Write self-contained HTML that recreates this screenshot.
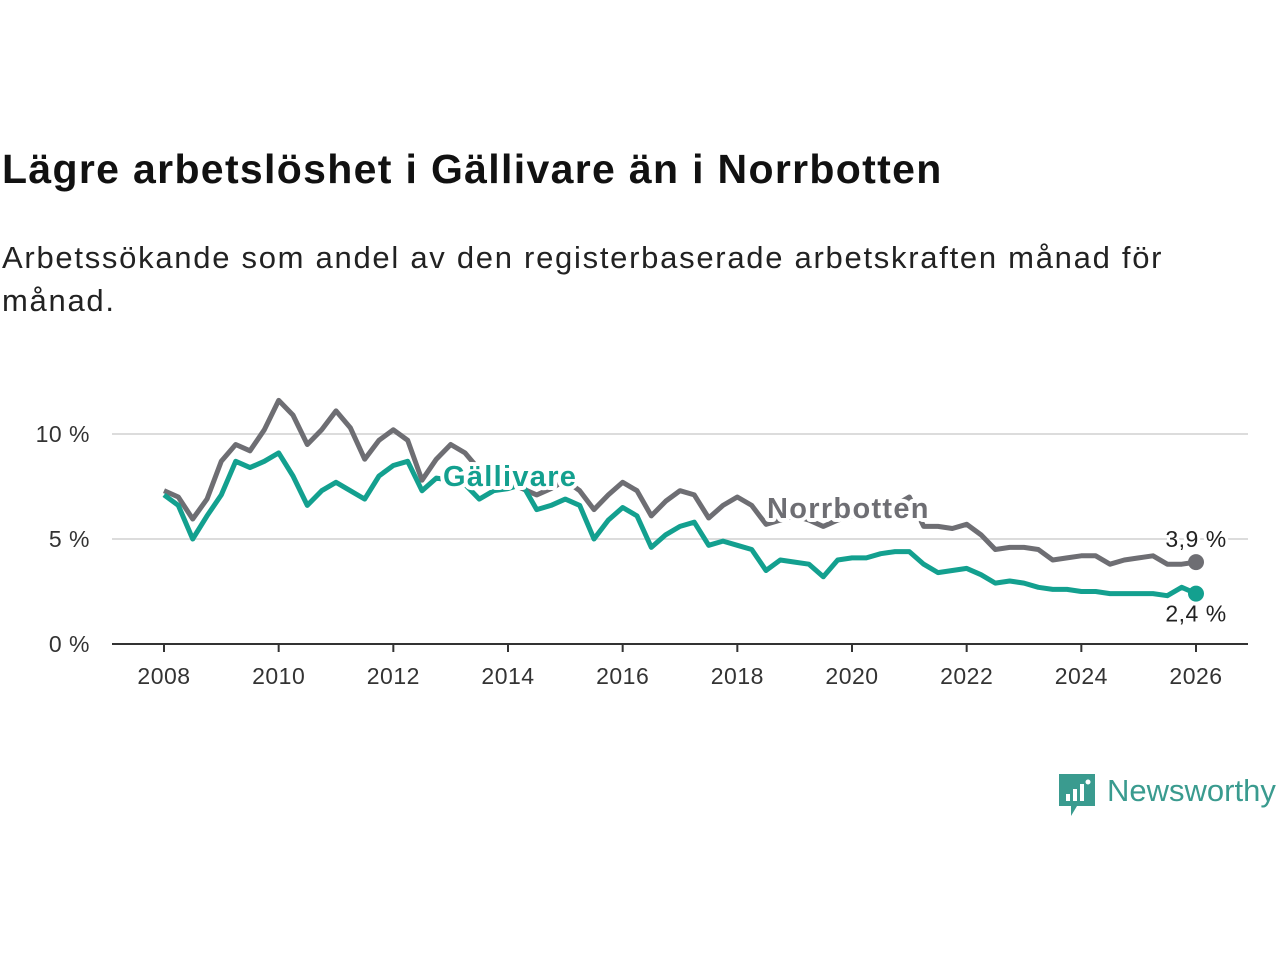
<!DOCTYPE html>
<html><head><meta charset="utf-8"><style>
body{margin:0;width:1280px;height:960px;background:#fff;font-family:"Liberation Sans",sans-serif;overflow:hidden;position:relative}
#title{position:absolute;left:2px;top:146px;font-size:41px;font-weight:bold;color:#111;margin:0;letter-spacing:1.33px}
#sub{position:absolute;left:2px;top:236px;font-size:31px;color:#222;line-height:43px;width:1250px;letter-spacing:1.72px}
svg{position:absolute;left:0;top:0}
</style></head><body>
<h1 id="title">Lägre arbetslöshet i Gällivare än i Norrbotten</h1>
<div id="sub">Arbetssökande som andel av den registerbaserade arbetskraften månad för<br>månad.</div>
<svg id="chart" width="1280" height="960"></svg>
<div style="position:absolute;left:1059px;top:774px;">
<svg width="40" height="44" style="position:absolute;left:0;top:0"><path d="M0 0H36V32H18L12 42V32H0Z" fill="#3a9b8f"/><rect x="7" y="20" width="4" height="7" fill="#fff"/><rect x="14" y="15" width="4" height="12" fill="#fff"/><rect x="21" y="10" width="4" height="17" fill="#fff"/><circle cx="29" cy="8" r="2.5" fill="#fff"/></svg>
<span style="position:absolute;left:48px;top:-1px;font-size:31px;color:#3a9b8f;white-space:nowrap">Newsworthy</span></div>
<script>
const years=[2008,2010,2012,2014,2016,2018,2020,2022,2024,2026];
const yTicks=[0,5,10];
const yTickLabels=["0 %","5 %","10 %"];
const startYear=2008, stepYears=0.25;
const norrbotten=[7.3,7.0,5.95,6.9,8.7,9.5,9.2,10.2,11.6,10.9,9.5,10.2,11.1,10.3,8.8,9.7,10.2,9.7,7.8,8.8,9.5,9.1,8.3,7.9,7.7,7.4,7.1,7.4,7.8,7.3,6.4,7.1,7.7,7.3,6.1,6.8,7.3,7.1,6.0,6.6,7.0,6.6,5.7,5.9,6.1,5.9,5.6,5.9,6.1,6.2,6.5,6.6,7.0,5.6,5.6,5.5,5.7,5.2,4.5,4.6,4.6,4.5,4.0,4.1,4.2,4.2,3.8,4.0,4.1,4.2,3.8,3.8,3.9];
const gallivare=[7.1,6.6,5.0,6.1,7.1,8.7,8.4,8.7,9.1,8.0,6.6,7.3,7.7,7.3,6.9,8.0,8.5,8.7,7.3,7.9,7.8,7.6,6.9,7.3,7.4,7.6,6.4,6.6,6.9,6.6,5.0,5.9,6.5,6.1,4.6,5.2,5.6,5.8,4.7,4.9,4.7,4.5,3.5,4.0,3.9,3.8,3.2,4.0,4.1,4.1,4.3,4.4,4.4,3.8,3.4,3.5,3.6,3.3,2.9,3.0,2.9,2.7,2.6,2.6,2.5,2.5,2.4,2.4,2.4,2.4,2.3,2.7,2.4];
const lastLabels=["3,9 %","2,4 %"];
const X=y=>164+(y-2008)*(1196-164)/18;
const Y=v=>644-v*21;
const NS="http://www.w3.org/2000/svg";
const svg=document.getElementById('chart');
function mk(t,a,txt){const e=document.createElementNS(NS,t);for(const k in a)e.setAttribute(k,a[k]);if(txt!=null)e.textContent=txt;svg.appendChild(e);return e;}
yTicks.forEach((t,i)=>{
 if(t>0){const g=mk('line',{x1:112,x2:1248,y1:Y(t),y2:Y(t),stroke:'#dcdcdc','stroke-width':2});
 
 }
 const l=mk('text',{x:90,y:Y(t)+8,'text-anchor':'end','font-size':23,fill:'#333','font-family':'Liberation Sans, sans-serif','letter-spacing':0.5},yTickLabels[i]);
 
 
});
const ax=mk('line',{x1:112,x2:1248,y1:644,y2:644,stroke:'#333','stroke-width':2});


years.forEach(y=>{
 const t=mk('line',{x1:X(y),x2:X(y),y1:644,y2:652,stroke:'#333','stroke-width':2});
 
 
 const l=mk('text',{x:X(y),y:684,'text-anchor':'middle','font-size':23,fill:'#333','font-family':'Liberation Sans, sans-serif','letter-spacing':0.5},String(y));
 
 
});
function line(data,color,name){
 const d=data.map((v,i)=>(i?'L':'M')+X(startYear+i*stepYears).toFixed(1)+' '+Y(v).toFixed(1)).join(' ');
 const p=mk('path',{d:d,fill:'none',stroke:color,'stroke-width':5,'stroke-linejoin':'round'});
 
 
 const n=data.length-1;
 const c=mk('circle',{cx:X(startYear+n*stepYears),cy:Y(data[n]),r:8,fill:color});
 
 
}
line(norrbotten,'#6e6e73','norrbotten');
line(gallivare,'#13a08f','gallivare');
const haloStyle={'font-weight':'bold','font-size':29,'font-family':'Liberation Sans, sans-serif',stroke:'#fff','stroke-width':8,'paint-order':'stroke','stroke-linejoin':'round','letter-spacing':1.3};
const g1=mk('text',Object.assign({x:443,y:486,fill:'#13a08f'},haloStyle),'Gällivare');


const n1=mk('text',Object.assign({x:767,y:518,fill:'#6e6e73'},haloStyle),'Norrbotten');


const n=norrbotten.length-1, xe=X(startYear+n*stepYears);
const v1=mk('text',{x:xe,y:Y(norrbotten[n])-15,'text-anchor':'middle','font-size':23,fill:'#222','font-family':'Liberation Sans, sans-serif',stroke:'#fff','stroke-width':6,'paint-order':'stroke','letter-spacing':0.5},lastLabels[0]);


const v2=mk('text',{x:xe,y:Y(gallivare[n])+28,'text-anchor':'middle','font-size':23,fill:'#222','font-family':'Liberation Sans, sans-serif',stroke:'#fff','stroke-width':6,'paint-order':'stroke','letter-spacing':0.5},lastLabels[1]);


</script>
</body></html>
